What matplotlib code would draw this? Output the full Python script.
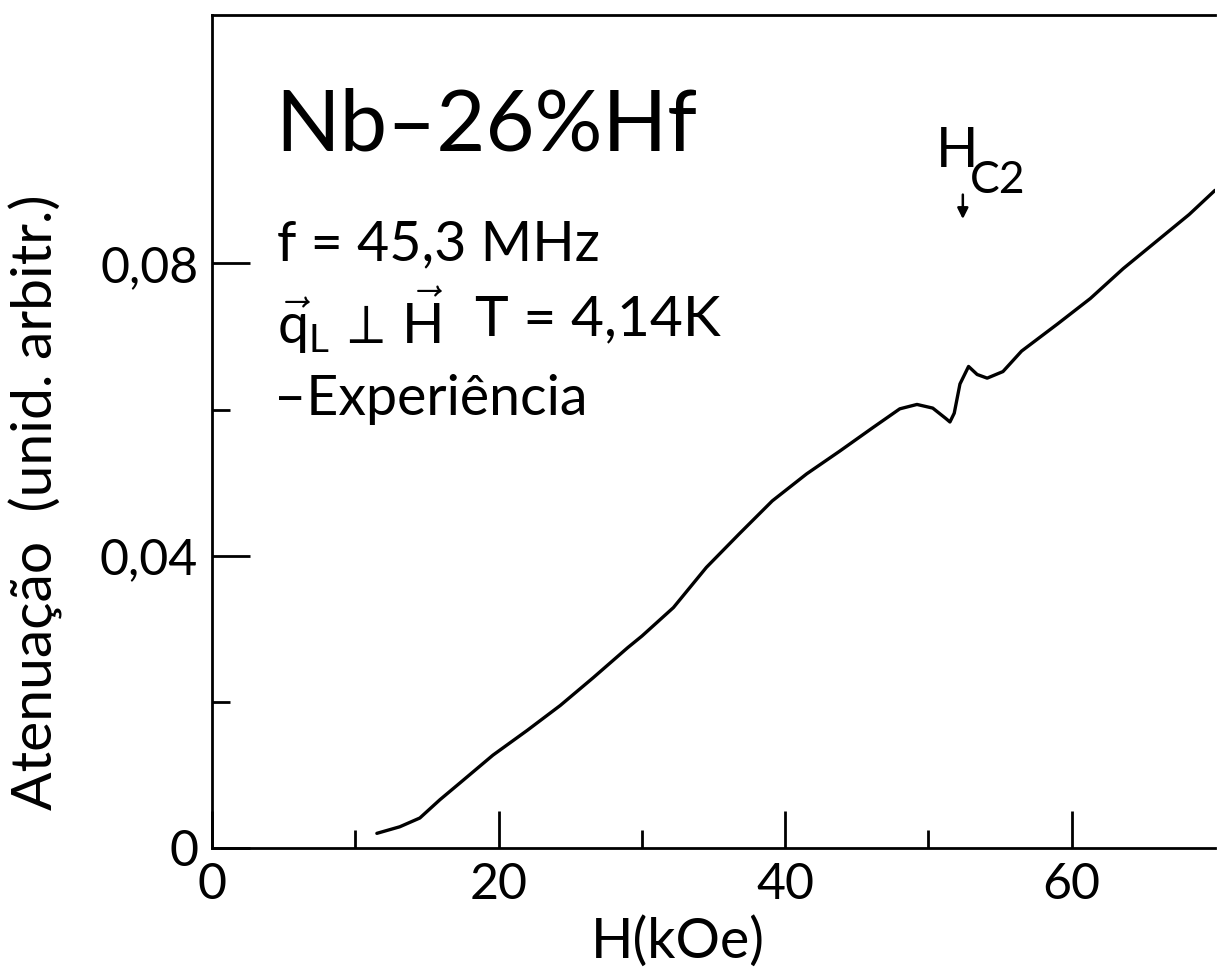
import matplotlib
matplotlib.use("Agg")
import matplotlib.pyplot as plt
from matplotlib.ticker import FixedLocator, FixedFormatter

plt.rcParams['font.family'] = ['Lato', 'DejaVu Sans']
plt.rcParams['mathtext.fontset'] = 'custom'
plt.rcParams['mathtext.rm'] = 'Lato'
plt.rcParams['mathtext.it'] = 'Lato'

# Data
H_kOe = [11.5, 13.1, 14.5, 15.9, 17.3, 19.6, 22.0, 24.3, 26.6, 29.0, 30.0,
         32.2, 34.5, 36.8, 39.1, 41.5, 43.8, 46.1, 48.0, 49.2, 50.3, 51.2,
         51.5, 51.8, 52.2, 52.8, 53.4, 54.1, 55.2, 56.5, 59.0, 61.3, 63.6,
         65.9, 68.2, 70.0]
atten = [0.0020, 0.0029, 0.0041, 0.0066, 0.0089, 0.0127, 0.0161, 0.0195,
         0.0233, 0.0274, 0.0290, 0.0329, 0.0384, 0.0430, 0.0475, 0.0512,
         0.0543, 0.0575, 0.0601, 0.0607, 0.0602, 0.0588, 0.0583, 0.0595,
         0.0635, 0.0659, 0.0648, 0.0643, 0.0652, 0.0680, 0.0717, 0.0752,
         0.0793, 0.0830, 0.0867, 0.0900]

x_major = [0, 20, 40, 60]
x_minor = [10, 30, 50]
y_major = [0, 0.04, 0.08]
y_major_labels = ['0', '0,04', '0,08']
y_minor = [0.02, 0.06]
Hc2 = 52.4

fig = plt.figure(figsize=(12.19, 9.74), dpi=100)
ax = fig.add_axes([0.174, 0.1294, 0.8227, 0.8552])
ax.plot(H_kOe, atten, color='black', lw=2.4, solid_capstyle='round',
        solid_joinstyle='round')

ax.set_xlim(0, 70)
ax.set_ylim(0, 0.114)

for s in ['left', 'bottom', 'top', 'right']:
    ax.spines[s].set_linewidth(2.0)
ax.spines['right'].set_visible(False)

ax.xaxis.set_major_locator(FixedLocator(x_major))
ax.xaxis.set_minor_locator(FixedLocator(x_minor))
ax.yaxis.set_major_locator(FixedLocator(y_major))
ax.yaxis.set_major_formatter(FixedFormatter(y_major_labels))
ax.yaxis.set_minor_locator(FixedLocator(y_minor))

ax.tick_params(axis='both', which='major', direction='in', length=27, width=2,
               labelsize=36)
ax.tick_params(axis='both', which='minor', direction='in', length=13, width=2)
ax.tick_params(axis='x', which='major', pad=10)
ax.tick_params(axis='y', which='major', pad=10)

ax.set_xlabel('H(kOe)', fontsize=40, va='center', ha='center')
ax.xaxis.set_label_coords(0.464, -0.113)
ax.set_ylabel('Atenuação  (unid. arbitr.)', fontsize=41, va='center',
              ha='center')
ax.yaxis.set_label_coords(-0.176, 0.415)

ax.text(0.063, 0.866, 'Nb–26%Hf', transform=ax.transAxes, fontsize=61,
        va='center', ha='left')
ax.text(0.065, 0.724, 'f = 45,3 MHz', transform=ax.transAxes, fontsize=40,
        va='center', ha='left')
ax.text(0.065, 0.634, r'$\vec{\mathrm{q}}_{\mathrm{L}}\,\perp\,\vec{\mathrm{H}}$',
        transform=ax.transAxes, fontsize=40, va='center', ha='left')
ax.text(0.262, 0.634, 'T = 4,14K', transform=ax.transAxes, fontsize=41,
        va='center', ha='left')
ax.text(0.062, 0.538, '–Experiência', transform=ax.transAxes, fontsize=40,
        va='center', ha='left')

# H_c2 marker
ax.text(0.722, 0.836, 'H', transform=ax.transAxes, fontsize=40,
        va='center', ha='left')
ax.text(0.756, 0.801, 'C2', transform=ax.transAxes, fontsize=32,
        va='center', ha='left')
ax.annotate('', xy=(Hc2, 0.0857), xytext=(Hc2, 0.0898),
            arrowprops=dict(arrowstyle='-|>', color='black', lw=1.8,
                            mutation_scale=16))

fig.savefig('out.png', dpi=100)
